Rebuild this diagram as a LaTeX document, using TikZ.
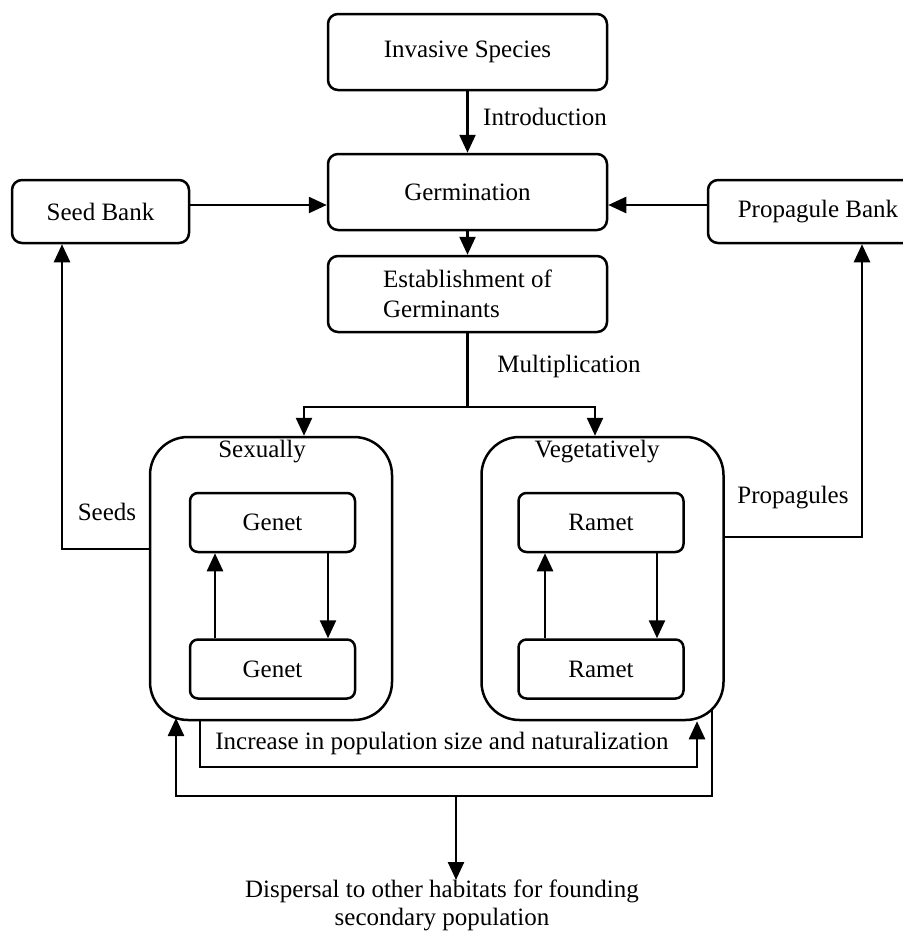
\documentclass[tikz,border=0pt]{standalone}
\usepackage{fontspec}
\setmainfont{Liberation Serif}
\usetikzlibrary{arrows.meta}
\begin{document}
\begin{tikzpicture}[x=0.5pt,y=-0.5pt, line width=1.25pt,
  every node/.style={font=\fontsize{12.5}{15}\selectfont, inner sep=0pt},
  box/.style={draw, rounded corners=5pt, align=center},
  smallbox/.style={draw, rounded corners=4pt, minimum width=82.5pt, minimum height=29.5pt},
  bigbox/.style={draw, rounded corners=19pt, minimum width=121pt, minimum height=141.5pt},
  arr/.style={-{Triangle[length=9pt,width=8pt]}}]
\useasboundingbox (0,0) rectangle (903,932);

% main chain
\node[box, minimum width=139.5pt, minimum height=38pt] (inv) at (467.5,52) {Invasive Species};
\node[box, minimum width=139.5pt, minimum height=38pt] (germ) at (467.5,192) {Germination};
\node[box, minimum width=139.5pt, minimum height=38pt, align=left] (est) at (467.5,294) {Establishment of\\Germinants};
\node[box, minimum width=88.5pt, minimum height=31.5pt] (seed) at (100.5,211.5) {Seed Bank};
\node[box, minimum width=110pt, minimum height=31.5pt] (prop) at (818,211.5) {Propagule Bank};

% big boxes
\node[bigbox] (sex) at (271,578.5) {};
\node[bigbox] (veg) at (602.5,578.5) {};
\node (sexlbl) at (262,452) {Sexually};
\node (veglbl) at (597,452) {Vegetatively};

\node[smallbox] (g1) at (272.5,522.5) {Genet};
\node[smallbox] (g2) at (272.5,669) {Genet};
\node[smallbox] (r1) at (601,522.5) {Ramet};
\node[smallbox] (r2) at (601,669) {Ramet};

% labels
\node (intro) at (545,117) {Introduction};
\node (mult) at (569,366) {Multiplication};
\node (seeds) at (107,512) {Seeds};
\node (props) at (793,498) {Propagules};
\node (incr) at (442,743) {Increase in population size and naturalization};
\node[align=center, font=\fontsize{12.5}{14}\selectfont] (disp) at (442,905) {Dispersal to other habitats for founding\\secondary population};

% helper coordinates
\coordinate (bankrow) at (0,205);
\coordinate (split) at (467.5,407);
\coordinate (xs) at (304,0);
\coordinate (xv) at (595,0);
\coordinate (gu) at (215,0);
\coordinate (gd) at (328,0);
\coordinate (ru) at (545,0);
\coordinate (rd) at (657,0);
\coordinate (seedrow) at (62,549);
\coordinate (proprow) at (862,537);
\coordinate (inA) at (200,767);
\coordinate (inB) at (697,767);
\coordinate (outR) at (712,710);
\coordinate (outBR) at (712,796);
\coordinate (outBL) at (176,796);
\coordinate (outL) at (176,718);
\coordinate (dispTop) at (456,796);
\coordinate (dispEnd) at (456,880);

% connectors
\draw[arr] (inv.south) -- (germ.north);
\draw[arr] (seed.east |- bankrow) -- (germ.west |- bankrow);
\draw[arr] (prop.west |- bankrow) -- (germ.east |- bankrow);
\draw[arr] (germ.south) -- (est.north);
\draw (est.south) -- (split);
\draw[arr] (split) -| (sex.north -| xs);
\draw[arr] (split) -| (veg.north -| xv);

\draw[arr] (g2.north -| gu) -- (g1.south -| gu);
\draw[arr] (g1.south -| gd) -- (g2.north -| gd);
\draw[arr] (r2.north -| ru) -- (r1.south -| ru);
\draw[arr] (r1.south -| rd) -- (r2.north -| rd);

\draw[arr] (sex.west |- seedrow) -| (seed.south -| seedrow);
\draw[arr] (veg.east |- proprow) -| (prop.south -| proprow);

\draw[arr] (sex.south -| inA) -- (inA) -- (inB) -- (veg.south -| inB);
\draw[arr] (outR) -- (outBR) -- (outBL) -- (outL);
\draw[arr] (dispTop) -- (dispEnd);
\end{tikzpicture}
\end{document}
